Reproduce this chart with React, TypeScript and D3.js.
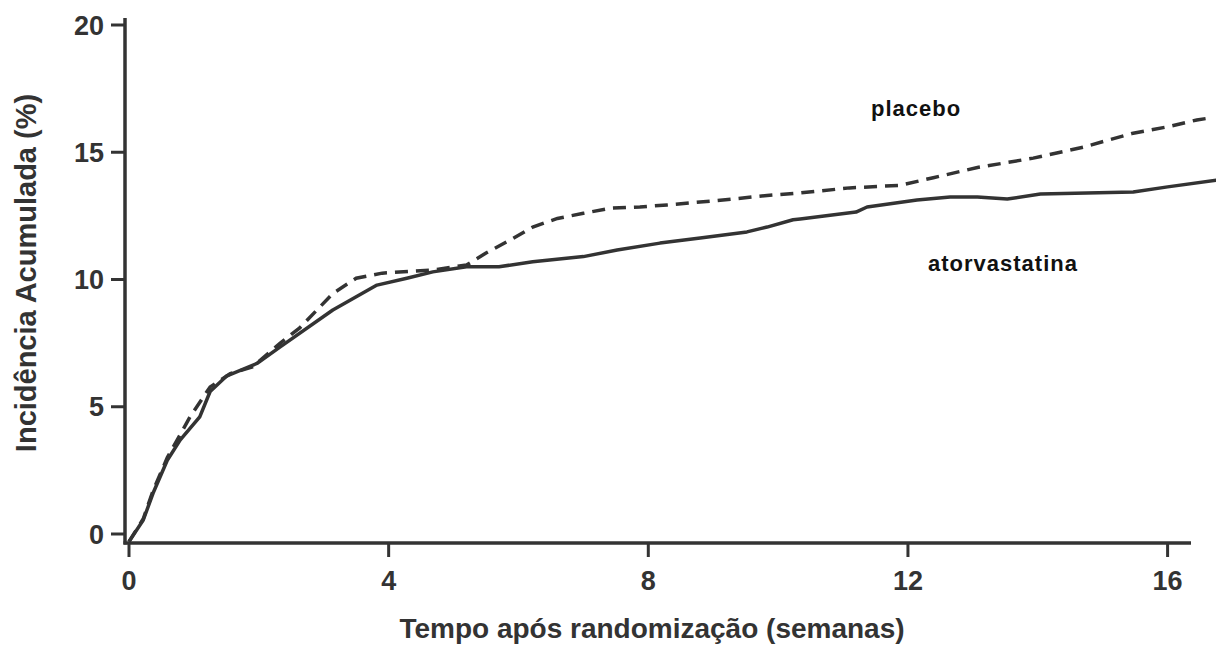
import React from "react";
import * as d3 from "d3";

const weeks = [0, 4, 8, 12, 16];
const yTicks = [0, 5, 10, 15, 20];

const atorvaX = [0, 0.22, 0.37, 0.59, 0.79, 1.09, 1.25, 1.5, 1.97, 2.33, 3.14, 3.82, 4.28, 4.68, 5.2, 5.7, 6.22, 7.0, 7.52, 8.18, 8.8, 9.52, 9.83, 10.23, 10.34, 11.2, 11.37, 12.14, 12.65, 13.07, 13.53, 14.04, 15.47, 16.0, 16.75];
const atorvaY = [-0.3, 0.55, 1.6, 2.9, 3.7, 4.6, 5.6, 6.2, 6.7, 7.35, 8.8, 9.78, 10.05, 10.3, 10.5, 10.5, 10.7, 10.9, 11.16, 11.43, 11.63, 11.87, 12.06, 12.35, 12.38, 12.65, 12.85, 13.12, 13.24, 13.24, 13.16, 13.36, 13.44, 13.64, 13.9];

const placeboX = [0, 0.22, 0.37, 0.59, 0.94, 1.25, 1.56, 1.9, 2.33, 2.63, 3.14, 3.5, 3.9, 4.68, 5.2, 5.5, 5.87, 6.22, 6.6, 7.0, 7.41, 7.87, 8.29, 9.06, 9.83, 10.34, 11.1, 11.88, 12.39, 13.07, 13.93, 14.7, 15.47, 16.0, 16.45, 16.66];
const placeboY = [-0.3, 0.6, 1.7, 3.0, 4.6, 5.78, 6.3, 6.56, 7.5, 8.1, 9.45, 10.05, 10.25, 10.37, 10.57, 11.04, 11.55, 12.06, 12.4, 12.6, 12.8, 12.85, 12.93, 13.1, 13.3, 13.4, 13.6, 13.7, 14.0, 14.4, 14.77, 15.2, 15.75, 16.0, 16.27, 16.35];

const W = 1216;
const H = 645;
const ink = "#333";
const font = "'Liberation Sans', Arial, Helvetica, sans-serif";

export default function App() {
  const x = d3.scaleLinear().domain([0, 16]).range([129, 1167.6]);
  const y = d3.scaleLinear().domain([0, 20]).range([534, 25]);
  const line = d3
    .line<[number, number]>()
    .x((d) => x(d[0]))
    .y((d) => y(d[1]))
    .curve(d3.curveLinear);
  const atorva = atorvaX.map((v, i) => [v, atorvaY[i]] as [number, number]);
  const placebo = placeboX.map((v, i) => [v, placeboY[i]] as [number, number]);
  const axisY = 543;
  const axisX = 125;

  return (
    <svg
      width={W}
      height={H}
      style={{ position: "absolute", left: 0, top: 0, background: "#fff" }}
      fontFamily={font}
    >
      <rect width={W} height={H} fill="#fff" />
      <line x1={axisX} x2={axisX} y1={18} y2={axisY + 1.5} stroke={ink} strokeWidth={3.5} />
      <line x1={axisX - 1.5} x2={1191} y1={axisY} y2={axisY} stroke={ink} strokeWidth={3.5} />
      {yTicks.map((t) => (
        <g key={"y" + t}>
          <line x1={axisX - 14} x2={axisX} y1={y(t)} y2={y(t)} stroke={ink} strokeWidth={3} />
          <text
            x={axisX - 21}
            y={y(t)}
            dy="0.36em"
            textAnchor="end"
            fontSize={27}
            fontWeight="bold"
            fill={ink}
          >
            {t}
          </text>
        </g>
      ))}
      {weeks.map((t) => (
        <g key={"x" + t}>
          <line x1={x(t)} x2={x(t)} y1={axisY} y2={axisY + 14} stroke={ink} strokeWidth={3} />
          <text
            x={x(t)}
            y={590}
            textAnchor="middle"
            fontSize={27}
            fontWeight="bold"
            fill={ink}
          >
            {t}
          </text>
        </g>
      ))}
      <text
        x={652}
        y={638}
        textAnchor="middle"
        fontSize={28}
        fontWeight="bold"
        fill={ink}
      >
        Tempo após randomização (semanas)
      </text>
      <text
        transform={`translate(36, 273) rotate(-90)`}
        textAnchor="middle"
        fontSize={29}
        fontWeight="bold"
        fill={ink}
      >
        Incidência Acumulada (%)
      </text>
      <path d={line(placebo) || ""} fill="none" stroke={ink} strokeWidth={3.5} strokeDasharray="13,8" />
      <path d={line(atorva) || ""} fill="none" stroke={ink} strokeWidth={3.5} strokeLinejoin="round" />
      <text x={871} y={116} fontSize={22} fontWeight="bold" letterSpacing={1} fill="#111">
        placebo
      </text>
      <text x={928} y={271} fontSize={22} fontWeight="bold" letterSpacing={1} fill="#111">
        atorvastatina
      </text>
    </svg>
  );
}
